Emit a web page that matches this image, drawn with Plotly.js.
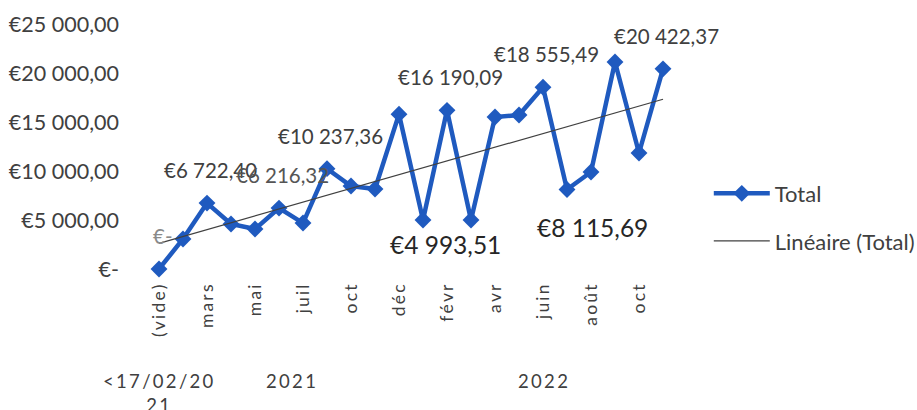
<!DOCTYPE html>
<html>
<head>
<meta charset="utf-8">
<script src="https://cdn.plot.ly/plotly-3.0.1.min.js"></script>
<style>
  html, body { margin: 0; padding: 0; background: #ffffff; }
  #chart { width: 917px; height: 410px; }
</style>
</head>
<body>
<div id="chart"></div>
<script>
// ---- data ----
const months = ["(vide)", "févr", "mars", "avr", "mai", "juin", "juil", "août", "oct", "nov", "déc",
                "janv", "févr", "mars", "avr", "mai", "juin", "juil", "août", "sept", "oct", "nov"];
const totals = [0, 3060, 6722.40, 4590, 4080, 6216.32, 4690, 10237.36, 8470, 8160, 15800,
                4993.51, 16190.09, 5000, 15510, 15714, 18555.49, 8115.69, 9898, 21120, 11837, 20422.37];
const shownTickIdx = [0, 2, 4, 6, 8, 10, 12, 14, 16, 18, 20];
const yearLabels = ["<17/02/2021", "2021", "2022"];
const yearFirst = [0, 1, 11];
const yearLast = [0, 10, 21];
const labelIdx = [0, 2, 5, 7, 12, 16, 21];
const labelText = ["€-", "€6 722,40", "€6 216,32", "€10 237,36", "€16 190,09", "€18 555,49", "€20 422,37"];
const bigLabelIdx = [11, 17];
const bigLabelText = ["€4 993,51", "€8 115,69"];
const yTickVals = [0, 5000, 10000, 15000, 20000, 25000];
const yTickText = ["€-", "€5 000,00", "€10 000,00", "€15 000,00", "€20 000,00", "€25 000,00"];

// ---- derived ----
const xs = totals.map((_, i) => i);
const n = xs.length;
const mx = xs.reduce((a, b) => a + b, 0) / n;
const my = totals.reduce((a, b) => a + b, 0) / n;
let sxy = 0, sxx = 0;
for (let i = 0; i < n; i++) { sxy += (xs[i] - mx) * (totals[i] - my); sxx += (xs[i] - mx) ** 2; }
const slope = sxy / sxx, icpt = my - slope * mx;
const trendX = [xs[0], xs[n - 1]];
const trendY = trendX.map(x => icpt + slope * x);

const spaced = s => Array.from(s).join("\u2009");
const esc = s => s.replace(/</g, "&lt;");

const FONT = "Lato, 'Open Sans', sans-serif";
const GREY = "#404040";
const BLUE = "#1f5abf";

const traces = [
  {
    x: xs, y: totals, type: "scatter", mode: "lines+markers", name: "Total",
    line: { color: BLUE, width: 4.5 },
    marker: { symbol: "diamond", size: 13, color: BLUE },
    cliponaxis: false, legendgroup: "a"
  },
  {
    x: trendX, y: trendY, type: "scatter", mode: "lines", name: "Linéaire (Total)",
    line: { color: "#404040", width: 1.2 }, cliponaxis: false, legendgroup: "b"
  }
];

const annotations = [];
labelIdx.forEach((idx, k) => {
  annotations.push({
    x: idx, y: totals[idx], xref: "x", yref: "y", text: labelText[k], showarrow: false,
    yshift: 33, xshift: idx === 0 ? 4 : 3,
    font: { family: FONT, size: 20.5, color: idx === 0 ? "#8a8a8a" : (idx === 5 ? "#555555" : GREY) }
  });
});
const bigShift = [[22, -24], [25, -38]];
bigLabelIdx.forEach((idx, k) => {
  annotations.push({
    x: idx, y: totals[idx], xref: "x", yref: "y", text: bigLabelText[k], showarrow: false,
    xshift: bigShift[k][0], yshift: bigShift[k][1],
    font: { family: FONT, size: 24.5, color: "#262626" }
  });
});
yearLabels.forEach((lab, k) => {
  let t = esc(spaced(lab));
  if (k === 0) {
    const a = spaced(lab.slice(0, 9)), b = spaced(lab.slice(9));
    t = esc(a) + "<br>" + esc(b);
  }
  annotations.push({
    x: (yearFirst[k] + yearLast[k]) / 2, y: 0, xref: "x", yref: "paper",
    text: t, showarrow: false, yanchor: "top", yshift: -99, xshift: k === 0 ? -1 : 0,
    font: { family: FONT, size: 18.5, color: GREY }
  });
});

const layout = {
  width: 917, height: 410,
  margin: { l: 147, r: 242, t: 24, b: 141, autoexpand: false },
  paper_bgcolor: "#ffffff", plot_bgcolor: "#ffffff",
  showlegend: true,
  legend: {
    x: 1.064, y: 0.21, xanchor: "left", yanchor: "middle",
    font: { family: FONT, size: 22, color: GREY },
    tracegroupgap: 16, traceorder: "grouped", itemwidth: 56,
    bgcolor: "rgba(0,0,0,0)"
  },
  xaxis: {
    range: [-0.5, n - 0.5], showgrid: false, zeroline: false, showline: false,
    tickmode: "array", tickvals: shownTickIdx, ticktext: shownTickIdx.map(i => spaced(months[i])),
    tickangle: -90, ticks: "", ticklabelstandoff: 11,
    tickfont: { family: FONT, size: 17.5, color: GREY }
  },
  yaxis: {
    range: [0, 25000], showgrid: false, zeroline: false, showline: false,
    tickmode: "array", tickvals: yTickVals, ticktext: yTickText,
    ticks: "", ticklabelstandoff: 27,
    tickfont: { family: FONT, size: 21.5, color: GREY }
  },
  annotations: annotations
};

Plotly.newPlot("chart", traces, layout, { displayModeBar: false, staticPlot: true });
</script>
</body>
</html>
